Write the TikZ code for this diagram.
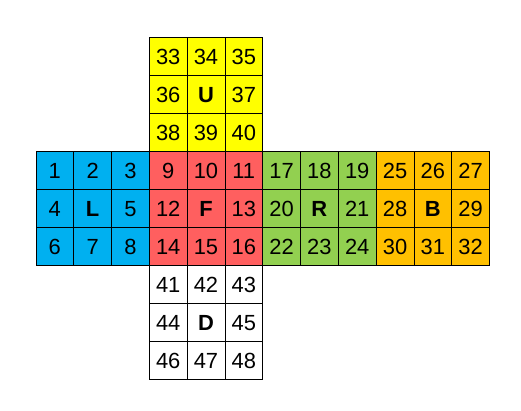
\documentclass[tikz,border=0pt]{standalone}
\usepackage{fontspec}
\setmainfont{Liberation Sans}
\usepackage{tikz}
\definecolor{faceU}{HTML}{FFFF00}
\definecolor{faceL}{HTML}{00B0F0}
\definecolor{faceF}{HTML}{FF5F5F}
\definecolor{faceR}{HTML}{92D050}
\definecolor{faceB}{HTML}{FFC000}
\definecolor{faceD}{HTML}{FFFFFF}
\begin{document}
\begin{tikzpicture}[
  x=37.8bp,
  y=38bp,
  cell/.style={draw=black,line width=0.8pt,minimum width=37.8bp,minimum height=38bp,
    inner sep=0pt,anchor=north west,font=\fontsize{22}{22}\selectfont},
  mid/.style={font=\fontsize{22}{22}\selectfont\bfseries}
]
\useasboundingbox (0bp,0bp) rectangle (521bp,-411bp);
\begin{scope}[shift={(35.5bp,-37.3bp)}]
\foreach \face/\col/\row/\first in {U/3/0/33,L/0/3/1,F/3/3/9,R/6/3/17,B/9/3/25,D/3/6/41} {
  \foreach \i in {0,...,8} {
    \pgfmathtruncatemacro\cx{\col+mod(\i,3)}
    \pgfmathtruncatemacro\cy{\row+div(\i,3)}
    \pgfmathtruncatemacro\num{\i<4 ? \first+\i : \first+\i-1}
    \ifnum\i=4
      \node[cell,fill=face\face,mid] (\face\i) at (\cx,-\cy) {\face};
    \else
      \node[cell,fill=face\face] (\face\i) at (\cx,-\cy) {\num};
    \fi
  }
}
\end{scope}
\end{tikzpicture}
\end{document}
